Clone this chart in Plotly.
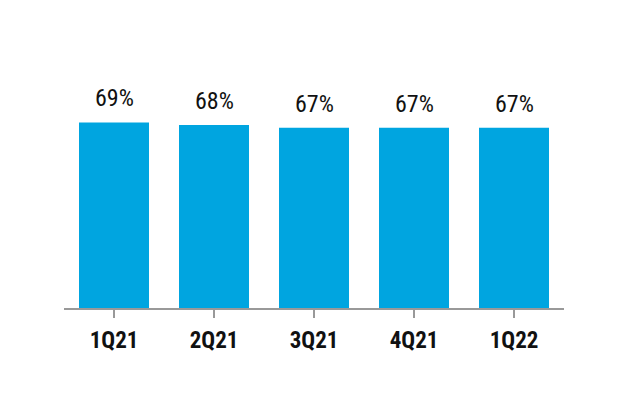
import plotly.graph_objects as go

categories = ["1Q21", "2Q21", "3Q21", "4Q21", "1Q22"]
values = [69, 68, 67, 67, 67]
labels = ["69%", "68%", "67%", "67%", "67%"]

FONT = "Liberation Sans Narrow, Arial Narrow, Roboto Condensed, Liberation Sans, sans-serif"

fig = go.Figure()
fig.add_trace(go.Bar(
    x=categories, y=values, width=0.7,
    marker=dict(color="#00A5E0", line=dict(width=0)),
    hoverinfo="skip",
))
for c, v, t in zip(categories, values, labels):
    fig.add_annotation(x=c, y=v, text=t, showarrow=False, yanchor="bottom",
                       yshift=8, font=dict(family=FONT, size=24, color="#111111"))

fig.update_layout(
    width=628, height=420,
    margin=dict(l=64, r=64, t=39, b=112),
    paper_bgcolor="white", plot_bgcolor="white",
    showlegend=False,
    bargap=0.3,
    xaxis=dict(
        range=[-0.5, 4.5], showline=True, linecolor="#999999", linewidth=2,
        ticks="outside", ticklen=8, tickwidth=2, tickcolor="#999999",
        ticklabelstandoff=2,
        tickfont=dict(family=FONT, size=23, color="#111111", weight="bold"),
        showgrid=False, zeroline=False, fixedrange=True,
    ),
    yaxis=dict(range=[0, 100], visible=False, fixedrange=True),
)

fig.write_html("out.html")
